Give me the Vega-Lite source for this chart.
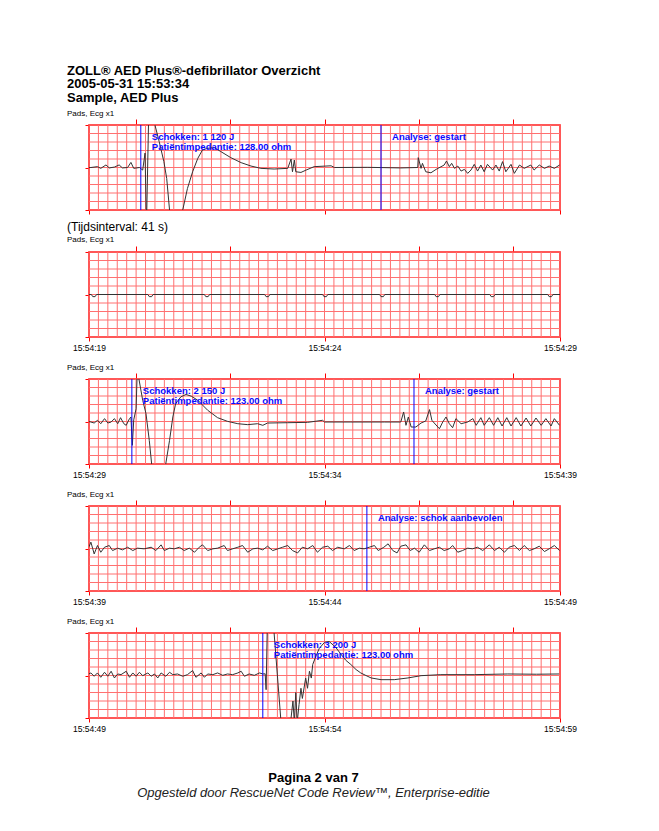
{
"$schema": "https://vega.github.io/schema/vega-lite/v6.json",
"background": "white",
"padding": {"left": 66, "top": 64, "right": 5, "bottom": 5},
"bounds": "flush",
"spacing": 42,
"title": {"text": ["ZOLL® AED Plus®-defibrillator Overzicht", "2005-05-31 15:53:34", "Sample, AED Plus"], "anchor": "start", "frame": "group", "dx": -22, "fontSize": 13, "fontWeight": "bold", "lineHeight": 13.5, "offset": 4, "color": "#000"},
"config": {
  "font": "Liberation Sans",
  "view": {"stroke": "#ff0000", "strokeWidth": 1.5},
  "title": {"font": "Liberation Sans", "fontSize": 8, "fontWeight": "normal", "anchor": "start", "frame": "group", "dx": -22, "color": "#000", "offset": 1},
  "axis": {"labelFont": "Liberation Sans", "grid": false, "domain": false, "title": null, "tickColor": "#ff0000", "tickWidth": 1, "labelColor": "#000"}
},
"datasets": {
  "vgrid": [{"g":0},{"g":0.2},{"g":0.4},{"g":0.6},{"g":0.8},{"g":1},{"g":1.2},{"g":1.4},{"g":1.6},{"g":1.8},{"g":2},{"g":2.2},{"g":2.4},{"g":2.6},{"g":2.8},{"g":3},{"g":3.2},{"g":3.4},{"g":3.6},{"g":3.8},{"g":4},{"g":4.2},{"g":4.4},{"g":4.6},{"g":4.8},{"g":5},{"g":5.2},{"g":5.4},{"g":5.6},{"g":5.8},{"g":6},{"g":6.2},{"g":6.4},{"g":6.6},{"g":6.8},{"g":7},{"g":7.2},{"g":7.4},{"g":7.6},{"g":7.8},{"g":8},{"g":8.2},{"g":8.4},{"g":8.6},{"g":8.8},{"g":9},{"g":9.2},{"g":9.4},{"g":9.6},{"g":9.8},{"g":10}],
  "hgrid": [{"h":-5},{"h":-4},{"h":-3},{"h":-2},{"h":-1},{"h":0},{"h":1},{"h":2},{"h":3},{"h":4},{"h":5}],
  "events": [
    {"p":1,"t":1.1,"label":"Schokken: 1 120 J\nPatiëntimpedantie: 128.00 ohm"},
    {"p":1,"t":6.2,"label":"Analyse: gestart"},
    {"p":3,"t":0.91,"label":"Schokken: 2 150 J\nPatiëntimpedantie: 123.00 ohm"},
    {"p":3,"t":6.9,"label":"Analyse: gestart"},
    {"p":4,"t":5.9,"label":"Analyse: schok aanbevolen"},
    {"p":5,"t":3.69,"label":"Schokken: 3 200 J\nPatiëntimpedantie: 123.00 ohm"}
  ],
  "ecg": [
{"p":1,"t":0,"v":0},{"p":1,"t":0.04,"v":0},{"p":1,"t":0.18,"v":0.1},{"p":1,"t":0.25,"v":-0.1},{"p":1,"t":0.36,"v":0.3},{"p":1,"t":0.43,"v":-0.05},{"p":1,"t":0.54,"v":0.05},{"p":1,"t":0.64,"v":0.3},{"p":1,"t":0.71,"v":-0.05},{"p":1,"t":0.82,"v":0},{"p":1,"t":0.89,"v":0.6},{"p":1,"t":0.95,"v":-0.1},{"p":1,"t":1.07,"v":0},{"p":1,"t":1.14,"v":-0.3},{"p":1,"t":1.19,"v":1.7},{"p":1,"t":1.22,"v":-7},{"p":1,"t":1.27,"v":7},{"p":1,"t":1.36,"v":7},{"p":1,"t":1.4,"v":5},{"p":1,"t":1.49,"v":3.05},{"p":1,"t":1.59,"v":0.69},{"p":1,"t":1.65,"v":-1.29},{"p":1,"t":1.71,"v":-5},{"p":1,"t":1.75,"v":-7},{"p":1,"t":1.95,"v":-7},{"p":1,"t":1.99,"v":-5},{"p":1,"t":2.09,"v":-2.47},{"p":1,"t":2.2,"v":-0.5},{"p":1,"t":2.31,"v":1.08},{"p":1,"t":2.41,"v":2.07},{"p":1,"t":2.52,"v":2.26},{"p":1,"t":2.66,"v":2.34},{"p":1,"t":2.8,"v":1.87},{"p":1,"t":3.01,"v":1.16},{"p":1,"t":3.23,"v":0.57},{"p":1,"t":3.44,"v":0.17},{"p":1,"t":3.65,"v":-0.1},{"p":1,"t":3.93,"v":-0.18},{"p":1,"t":4.22,"v":-0.1},{"p":1,"t":4.29,"v":1},{"p":1,"t":4.32,"v":-0.5},{"p":1,"t":4.36,"v":0.88},{"p":1,"t":4.39,"v":-0.5},{"p":1,"t":4.5,"v":-0.58},{"p":1,"t":4.61,"v":-0.3},{"p":1,"t":4.78,"v":0.1},{"p":1,"t":5.14,"v":0.2},{"p":1,"t":5.21,"v":0},{"p":1,"t":5.92,"v":0.02},{"p":1,"t":6.62,"v":-0.05},{"p":1,"t":6.98,"v":0},{"p":1,"t":6.99,"v":1.16},{"p":1,"t":7.05,"v":-0.1},{"p":1,"t":7.08,"v":0.49},{"p":1,"t":7.15,"v":-0.5},{"p":1,"t":7.26,"v":-0.62},{"p":1,"t":7.37,"v":-0.22},{"p":1,"t":7.54,"v":0.29},{"p":1,"t":7.59,"v":0.76},{"p":1,"t":7.65,"v":0.1},{"p":1,"t":7.7,"v":0.49},{"p":1,"t":7.76,"v":-0.1},{"p":1,"t":7.83,"v":0.17},{"p":1,"t":7.9,"v":-0.42},{"p":1,"t":7.97,"v":-0.22},{"p":1,"t":8.04,"v":-0.69},{"p":1,"t":8.11,"v":-0.3},{"p":1,"t":8.18,"v":0.37},{"p":1,"t":8.25,"v":-0.42},{"p":1,"t":8.32,"v":0.29},{"p":1,"t":8.39,"v":-0.5},{"p":1,"t":8.46,"v":0.37},{"p":1,"t":8.57,"v":-0.3},{"p":1,"t":8.64,"v":0.29},{"p":1,"t":8.71,"v":-0.42},{"p":1,"t":8.78,"v":0.69},{"p":1,"t":8.85,"v":-0.5},{"p":1,"t":8.96,"v":0.37},{"p":1,"t":9.03,"v":-0.69},{"p":1,"t":9.14,"v":0.29},{"p":1,"t":9.24,"v":-0.1},{"p":1,"t":9.38,"v":0.29},{"p":1,"t":9.45,"v":-0.3},{"p":1,"t":9.56,"v":0.29},{"p":1,"t":9.67,"v":-0.1},{"p":1,"t":9.77,"v":0.17},{"p":1,"t":9.88,"v":-0.1},{"p":1,"t":9.99,"v":0.29},
{"p":2,"t":0,"v":0},{"p":2,"t":0.05,"v":0},{"p":2,"t":0.08,"v":-0.25},{"p":2,"t":0.13,"v":-0.25},{"p":2,"t":0.16,"v":0},{"p":2,"t":1.25,"v":0},{"p":2,"t":1.28,"v":-0.25},{"p":2,"t":1.33,"v":-0.25},{"p":2,"t":1.36,"v":0},{"p":2,"t":2.45,"v":0},{"p":2,"t":2.48,"v":-0.25},{"p":2,"t":2.53,"v":-0.25},{"p":2,"t":2.56,"v":0},{"p":2,"t":3.73,"v":0},{"p":2,"t":3.76,"v":-0.25},{"p":2,"t":3.81,"v":-0.25},{"p":2,"t":3.84,"v":0},{"p":2,"t":4.96,"v":0},{"p":2,"t":4.99,"v":-0.25},{"p":2,"t":5.04,"v":-0.25},{"p":2,"t":5.07,"v":0},{"p":2,"t":6.17,"v":0},{"p":2,"t":6.2,"v":-0.25},{"p":2,"t":6.25,"v":-0.25},{"p":2,"t":6.28,"v":0},{"p":2,"t":7.34,"v":0},{"p":2,"t":7.37,"v":-0.25},{"p":2,"t":7.42,"v":-0.25},{"p":2,"t":7.45,"v":0},{"p":2,"t":8.51,"v":0},{"p":2,"t":8.54,"v":-0.25},{"p":2,"t":8.59,"v":-0.25},{"p":2,"t":8.62,"v":0},{"p":2,"t":9.74,"v":0},{"p":2,"t":9.77,"v":-0.25},{"p":2,"t":9.82,"v":-0.25},{"p":2,"t":9.85,"v":0},{"p":2,"t":10,"v":0},
{"p":3,"t":0,"v":0},{"p":3,"t":0.04,"v":-0.06},{"p":3,"t":0.11,"v":-0.18},{"p":3,"t":0.18,"v":0.14},{"p":3,"t":0.25,"v":-0.26},{"p":3,"t":0.33,"v":0.34},{"p":3,"t":0.4,"v":-0.18},{"p":3,"t":0.47,"v":-0.06},{"p":3,"t":0.54,"v":0.34},{"p":3,"t":0.61,"v":-0.26},{"p":3,"t":0.67,"v":0.45},{"p":3,"t":0.74,"v":-0.26},{"p":3,"t":0.79,"v":-0.45},{"p":3,"t":0.86,"v":0.34},{"p":3,"t":0.89,"v":0.53},{"p":3,"t":0.92,"v":-2.8},{"p":3,"t":0.95,"v":0.2},{"p":3,"t":1,"v":1.5},{"p":3,"t":1.03,"v":7},{"p":3,"t":1.05,"v":7},{"p":3,"t":1.06,"v":5},{"p":3,"t":1.14,"v":2.5},{"p":3,"t":1.21,"v":0.93},{"p":3,"t":1.28,"v":-2.23},{"p":3,"t":1.33,"v":-5},{"p":3,"t":1.36,"v":-7},{"p":3,"t":1.6,"v":-7},{"p":3,"t":1.63,"v":-4.97},{"p":3,"t":1.71,"v":-2.23},{"p":3,"t":1.78,"v":0.53},{"p":3,"t":1.84,"v":2.11},{"p":3,"t":1.95,"v":2.9},{"p":3,"t":2.06,"v":3.18},{"p":3,"t":2.17,"v":2.98},{"p":3,"t":2.31,"v":2.5},{"p":3,"t":2.52,"v":1.32},{"p":3,"t":2.73,"v":0.45},{"p":3,"t":2.94,"v":0.02},{"p":3,"t":3.16,"v":-0.26},{"p":3,"t":3.37,"v":-0.37},{"p":3,"t":3.58,"v":-0.26},{"p":3,"t":3.69,"v":-0.45},{"p":3,"t":3.79,"v":-0.18},{"p":3,"t":4.22,"v":-0.14},{"p":3,"t":4.64,"v":-0.1},{"p":3,"t":4.96,"v":0.14},{"p":3,"t":5,"v":-0.06},{"p":3,"t":5.56,"v":-0.06},{"p":3,"t":6.27,"v":-0.06},{"p":3,"t":6.62,"v":-0.06},{"p":3,"t":6.68,"v":1.12},{"p":3,"t":6.73,"v":-0.45},{"p":3,"t":6.78,"v":0.53},{"p":3,"t":6.84,"v":-0.65},{"p":3,"t":6.94,"v":-0.65},{"p":3,"t":7.05,"v":-0.18},{"p":3,"t":7.15,"v":0.06},{"p":3,"t":7.23,"v":1.4},{"p":3,"t":7.28,"v":0.14},{"p":3,"t":7.33,"v":-0.18},{"p":3,"t":7.44,"v":-0.85},{"p":3,"t":7.51,"v":-0.06},{"p":3,"t":7.58,"v":0.53},{"p":3,"t":7.65,"v":-0.26},{"p":3,"t":7.72,"v":-0.73},{"p":3,"t":7.79,"v":0.34},{"p":3,"t":7.9,"v":-0.26},{"p":3,"t":8.04,"v":-0.06},{"p":3,"t":8.15,"v":0.34},{"p":3,"t":8.22,"v":-0.45},{"p":3,"t":8.32,"v":0.45},{"p":3,"t":8.39,"v":-0.45},{"p":3,"t":8.5,"v":0.45},{"p":3,"t":8.59,"v":-0.45},{"p":3,"t":8.68,"v":0.45},{"p":3,"t":8.77,"v":-0.53},{"p":3,"t":8.87,"v":0.45},{"p":3,"t":8.96,"v":-0.53},{"p":3,"t":9.07,"v":0.45},{"p":3,"t":9.17,"v":-0.53},{"p":3,"t":9.28,"v":0.41},{"p":3,"t":9.38,"v":-0.53},{"p":3,"t":9.49,"v":0.41},{"p":3,"t":9.6,"v":-0.45},{"p":3,"t":9.7,"v":0.34},{"p":3,"t":9.81,"v":-0.53},{"p":3,"t":9.88,"v":0.34},{"p":3,"t":9.99,"v":-0.45},
{"p":4,"t":0,"v":0.2},{"p":4,"t":0.04,"v":0.75},{"p":4,"t":0.08,"v":-0.04},{"p":4,"t":0.11,"v":-0.64},{"p":4,"t":0.18,"v":0.35},{"p":4,"t":0.25,"v":-0.44},{"p":4,"t":0.33,"v":0.15},{"p":4,"t":0.43,"v":0.35},{"p":4,"t":0.5,"v":-0.24},{"p":4,"t":0.61,"v":0.04},{"p":4,"t":0.71,"v":-0.16},{"p":4,"t":0.82,"v":0.15},{"p":4,"t":0.93,"v":-0.24},{"p":4,"t":1.03,"v":0.04},{"p":4,"t":1.17,"v":-0.04},{"p":4,"t":1.32,"v":0.15},{"p":4,"t":1.42,"v":-0.24},{"p":4,"t":1.53,"v":0.43},{"p":4,"t":1.6,"v":-0.24},{"p":4,"t":1.71,"v":0.04},{"p":4,"t":1.81,"v":-0.04},{"p":4,"t":1.92,"v":0.15},{"p":4,"t":2.02,"v":-0.24},{"p":4,"t":2.13,"v":0.04},{"p":4,"t":2.24,"v":-0.44},{"p":4,"t":2.34,"v":0.15},{"p":4,"t":2.41,"v":0.43},{"p":4,"t":2.52,"v":-0.24},{"p":4,"t":2.63,"v":-0.04},{"p":4,"t":2.73,"v":0.04},{"p":4,"t":2.87,"v":0.35},{"p":4,"t":2.94,"v":-0.24},{"p":4,"t":3.05,"v":-0.04},{"p":4,"t":3.16,"v":0.15},{"p":4,"t":3.26,"v":0.35},{"p":4,"t":3.37,"v":-0.44},{"p":4,"t":3.48,"v":-0.04},{"p":4,"t":3.58,"v":0.04},{"p":4,"t":3.69,"v":-0.16},{"p":4,"t":3.79,"v":0.27},{"p":4,"t":3.9,"v":-0.24},{"p":4,"t":4.01,"v":-0.04},{"p":4,"t":4.11,"v":0.15},{"p":4,"t":4.22,"v":0.35},{"p":4,"t":4.32,"v":-0.24},{"p":4,"t":4.43,"v":-0.52},{"p":4,"t":4.53,"v":0.15},{"p":4,"t":4.64,"v":-0.04},{"p":4,"t":4.75,"v":0.35},{"p":4,"t":4.85,"v":-0.44},{"p":4,"t":4.96,"v":0.15},{"p":4,"t":5.07,"v":0.27},{"p":4,"t":5.17,"v":-0.24},{"p":4,"t":5.28,"v":0.15},{"p":4,"t":5.42,"v":-0.04},{"p":4,"t":5.53,"v":0.35},{"p":4,"t":5.63,"v":-0.24},{"p":4,"t":5.74,"v":0.04},{"p":4,"t":5.84,"v":-0.04},{"p":4,"t":5.95,"v":0.15},{"p":4,"t":6.06,"v":0.35},{"p":4,"t":6.14,"v":-0.24},{"p":4,"t":6.26,"v":0.15},{"p":4,"t":6.35,"v":0.55},{"p":4,"t":6.45,"v":-0.24},{"p":4,"t":6.54,"v":-0.52},{"p":4,"t":6.62,"v":0.27},{"p":4,"t":6.73,"v":0.43},{"p":4,"t":6.82,"v":-0.24},{"p":4,"t":6.91,"v":0.04},{"p":4,"t":7.01,"v":-0.44},{"p":4,"t":7.12,"v":0.43},{"p":4,"t":7.23,"v":-0.24},{"p":4,"t":7.33,"v":-0.04},{"p":4,"t":7.44,"v":0.15},{"p":4,"t":7.54,"v":-0.24},{"p":4,"t":7.65,"v":-0.04},{"p":4,"t":7.72,"v":0.35},{"p":4,"t":7.83,"v":-0.44},{"p":4,"t":7.93,"v":-0.24},{"p":4,"t":8.04,"v":0.04},{"p":4,"t":8.14,"v":-0.04},{"p":4,"t":8.25,"v":0.15},{"p":4,"t":8.36,"v":-0.24},{"p":4,"t":8.5,"v":0.43},{"p":4,"t":8.61,"v":-0.24},{"p":4,"t":8.71,"v":0.15},{"p":4,"t":8.82,"v":-0.44},{"p":4,"t":8.92,"v":0.15},{"p":4,"t":9.03,"v":0.35},{"p":4,"t":9.14,"v":-0.24},{"p":4,"t":9.24,"v":0.35},{"p":4,"t":9.35,"v":-0.24},{"p":4,"t":9.45,"v":-0.04},{"p":4,"t":9.56,"v":0.27},{"p":4,"t":9.67,"v":-0.36},{"p":4,"t":9.77,"v":-0.04},{"p":4,"t":9.88,"v":0.35},{"p":4,"t":9.99,"v":-0.24},
{"p":5,"t":0,"v":0.2},{"p":5,"t":0.04,"v":0.3},{"p":5,"t":0.11,"v":-0.09},{"p":5,"t":0.18,"v":0.3},{"p":5,"t":0.25,"v":-0.21},{"p":5,"t":0.33,"v":0.38},{"p":5,"t":0.4,"v":-0.09},{"p":5,"t":0.47,"v":0.5},{"p":5,"t":0.54,"v":-0.29},{"p":5,"t":0.61,"v":0.18},{"p":5,"t":0.68,"v":0.1},{"p":5,"t":0.79,"v":0.5},{"p":5,"t":0.86,"v":-0.21},{"p":5,"t":0.93,"v":0.3},{"p":5,"t":1,"v":-0.09},{"p":5,"t":1.07,"v":0.38},{"p":5,"t":1.14,"v":-0.02},{"p":5,"t":1.25,"v":0.3},{"p":5,"t":1.32,"v":-0.09},{"p":5,"t":1.39,"v":0.18},{"p":5,"t":1.46,"v":-0.29},{"p":5,"t":1.53,"v":0.3},{"p":5,"t":1.63,"v":-0.09},{"p":5,"t":1.71,"v":0.38},{"p":5,"t":1.78,"v":0.1},{"p":5,"t":1.88,"v":0.18},{"p":5,"t":1.99,"v":-0.09},{"p":5,"t":2.09,"v":0.1},{"p":5,"t":2.2,"v":0.58},{"p":5,"t":2.27,"v":-0.21},{"p":5,"t":2.38,"v":0.3},{"p":5,"t":2.45,"v":-0.21},{"p":5,"t":2.52,"v":0.18},{"p":5,"t":2.63,"v":0.1},{"p":5,"t":2.73,"v":0.3},{"p":5,"t":2.84,"v":0.02},{"p":5,"t":2.94,"v":0.18},{"p":5,"t":3.05,"v":0.1},{"p":5,"t":3.16,"v":0.3},{"p":5,"t":3.23,"v":0.5},{"p":5,"t":3.3,"v":-0.09},{"p":5,"t":3.4,"v":0.18},{"p":5,"t":3.51,"v":0.02},{"p":5,"t":3.62,"v":0.3},{"p":5,"t":3.69,"v":0.18},{"p":5,"t":3.74,"v":0.2},{"p":5,"t":3.76,"v":-1.67},{"p":5,"t":3.79,"v":7},{"p":5,"t":3.92,"v":7},{"p":5,"t":3.93,"v":5},{"p":5,"t":4.07,"v":-5},{"p":5,"t":4.1,"v":-7},{"p":5,"t":4.27,"v":-7},{"p":5,"t":4.29,"v":-5},{"p":5,"t":4.33,"v":-3},{"p":5,"t":4.36,"v":-5.5},{"p":5,"t":4.39,"v":-2},{"p":5,"t":4.42,"v":-5.5},{"p":5,"t":4.46,"v":-3.4},{"p":5,"t":4.5,"v":-1.5},{"p":5,"t":4.53,"v":-2.7},{"p":5,"t":4.6,"v":-0.3},{"p":5,"t":4.64,"v":-1.5},{"p":5,"t":4.68,"v":0.5},{"p":5,"t":4.72,"v":-0.3},{"p":5,"t":4.75,"v":1.3},{"p":5,"t":4.82,"v":2.3},{"p":5,"t":4.89,"v":3.2},{"p":5,"t":5,"v":3.9},{"p":5,"t":5.1,"v":4},{"p":5,"t":5.24,"v":3.3},{"p":5,"t":5.35,"v":2.5},{"p":5,"t":5.45,"v":1.8},{"p":5,"t":5.56,"v":1.29},{"p":5,"t":5.67,"v":0.7},{"p":5,"t":5.77,"v":0.3},{"p":5,"t":5.88,"v":0},{"p":5,"t":5.99,"v":-0.29},{"p":5,"t":6.2,"v":-0.49},{"p":5,"t":6.48,"v":-0.49},{"p":5,"t":6.77,"v":-0.29},{"p":5,"t":7.05,"v":-0.02},{"p":5,"t":7.47,"v":0.1},{"p":5,"t":8.18,"v":0.1},{"p":5,"t":8.89,"v":0.18},{"p":5,"t":9.5,"v":0.15},{"p":5,"t":9.98,"v":0.18}
  ]
},
"vconcat": [
  {
    "width": 471, "height": 85,
    "title": {"text": "Pads, Ecg x1"},
    "layer": [
      {"data": {"name": "vgrid"}, "mark": {"type": "rule", "color": "#ff7070", "strokeWidth": 1}, "encoding": {"x": {"field": "g", "type": "quantitative", "scale": {"domain": [0, 10], "nice": false}, "axis": {"orient": "top", "values": [1, 3, 5, 7, 9], "labels": false, "tickSize": 6}}}},
      {"data": {"name": "hgrid"}, "mark": {"type": "rule", "color": "#ff7070", "strokeWidth": 1}, "encoding": {"y": {"field": "h", "type": "quantitative", "scale": {"domain": [-5, 5], "nice": false, "zero": false}, "axis": {"orient": "left", "values": [-5, 0, 5], "labels": false, "tickSize": 4}}}},
      {"data": {"name": "ecg"}, "transform": [{"filter": "datum.p == 1"}], "mark": {"type": "line", "color": "#333333", "strokeWidth": 1, "clip": true}, "encoding": {"x": {"field": "t", "type": "quantitative", "axis": {"orient": "bottom", "values": [0, 5, 10], "labels": false, "tickSize": 4}}, "y": {"field": "v", "type": "quantitative", "axis": null}}},
      {"data": {"name": "events"}, "transform": [{"filter": "datum.p == 1"}], "mark": {"type": "rule", "color": "#0000ff", "strokeWidth": 1}, "encoding": {"x": {"field": "t", "type": "quantitative", "axis": null}}},
      {"data": {"name": "events"}, "transform": [{"filter": "datum.p == 1"}], "mark": {"type": "text", "color": "#0a0aff", "fontSize": 9.5, "fontWeight": "bold", "align": "left", "baseline": "top", "dx": 11, "dy": 7, "lineBreak": "\n", "lineHeight": 9.5}, "encoding": {"x": {"field": "t", "type": "quantitative", "axis": null}, "y": {"datum": 5, "type": "quantitative", "axis": null}, "text": {"field": "label"}}}
    ],
    "resolve": {"axis": {"x": "independent", "y": "independent"}}
  },
  {
    "width": 471, "height": 85,
    "title": {"text": "(Tijdsinterval: 41 s)", "subtitle": "Pads, Ecg x1", "fontSize": 12, "subtitleFontSize": 8, "subtitleFont": "Liberation Sans", "subtitleColor": "#000", "subtitlePadding": 2},
    "layer": [
      {"data": {"name": "vgrid"}, "mark": {"type": "rule", "color": "#ff7070", "strokeWidth": 1}, "encoding": {"x": {"field": "g", "type": "quantitative", "scale": {"domain": [0, 10], "nice": false}, "axis": {"orient": "top", "values": [1, 3, 5, 7, 9], "labels": false, "tickSize": 6}}}},
      {"data": {"name": "hgrid"}, "mark": {"type": "rule", "color": "#ff7070", "strokeWidth": 1}, "encoding": {"y": {"field": "h", "type": "quantitative", "scale": {"domain": [-5, 5], "nice": false, "zero": false}, "axis": {"orient": "left", "values": [-5, 0, 5], "labels": false, "tickSize": 4}}}},
      {"data": {"name": "ecg"}, "transform": [{"filter": "datum.p == 2"}], "mark": {"type": "line", "color": "#333333", "strokeWidth": 1, "clip": true}, "encoding": {"x": {"field": "t", "type": "quantitative", "axis": {"orient": "bottom", "values": [0, 5, 10], "tickSize": 4, "labelFontSize": 8.5, "labelPadding": 2, "labelFlush": false, "labelExpr": "datum.value == 0 ? '15:54:19' : datum.value == 5 ? '15:54:24' : '15:54:29'"}}, "y": {"field": "v", "type": "quantitative", "axis": null}}}
    ],
    "resolve": {"axis": {"x": "independent", "y": "independent"}}
  },
  {
    "width": 471, "height": 85,
    "title": {"text": "Pads, Ecg x1"},
    "layer": [
      {"data": {"name": "vgrid"}, "mark": {"type": "rule", "color": "#ff7070", "strokeWidth": 1}, "encoding": {"x": {"field": "g", "type": "quantitative", "scale": {"domain": [0, 10], "nice": false}, "axis": {"orient": "top", "values": [1, 3, 5, 7, 9], "labels": false, "tickSize": 6}}}},
      {"data": {"name": "hgrid"}, "mark": {"type": "rule", "color": "#ff7070", "strokeWidth": 1}, "encoding": {"y": {"field": "h", "type": "quantitative", "scale": {"domain": [-5, 5], "nice": false, "zero": false}, "axis": {"orient": "left", "values": [-5, 0, 5], "labels": false, "tickSize": 4}}}},
      {"data": {"name": "ecg"}, "transform": [{"filter": "datum.p == 3"}], "mark": {"type": "line", "color": "#333333", "strokeWidth": 1, "clip": true}, "encoding": {"x": {"field": "t", "type": "quantitative", "axis": {"orient": "bottom", "values": [0, 5, 10], "tickSize": 4, "labelFontSize": 8.5, "labelPadding": 2, "labelFlush": false, "labelExpr": "datum.value == 0 ? '15:54:29' : datum.value == 5 ? '15:54:34' : '15:54:39'"}}, "y": {"field": "v", "type": "quantitative", "axis": null}}},
      {"data": {"name": "events"}, "transform": [{"filter": "datum.p == 3"}], "mark": {"type": "rule", "color": "#0000ff", "strokeWidth": 1}, "encoding": {"x": {"field": "t", "type": "quantitative", "axis": null}}},
      {"data": {"name": "events"}, "transform": [{"filter": "datum.p == 3"}], "mark": {"type": "text", "color": "#0a0aff", "fontSize": 9.5, "fontWeight": "bold", "align": "left", "baseline": "top", "dx": 11, "dy": 7, "lineBreak": "\n", "lineHeight": 9.5}, "encoding": {"x": {"field": "t", "type": "quantitative", "axis": null}, "y": {"datum": 5, "type": "quantitative", "axis": null}, "text": {"field": "label"}}}
    ],
    "resolve": {"axis": {"x": "independent", "y": "independent"}}
  },
  {
    "width": 471, "height": 85,
    "title": {"text": "Pads, Ecg x1"},
    "layer": [
      {"data": {"name": "vgrid"}, "mark": {"type": "rule", "color": "#ff7070", "strokeWidth": 1}, "encoding": {"x": {"field": "g", "type": "quantitative", "scale": {"domain": [0, 10], "nice": false}, "axis": {"orient": "top", "values": [1, 3, 5, 7, 9], "labels": false, "tickSize": 6}}}},
      {"data": {"name": "hgrid"}, "mark": {"type": "rule", "color": "#ff7070", "strokeWidth": 1}, "encoding": {"y": {"field": "h", "type": "quantitative", "scale": {"domain": [-5, 5], "nice": false, "zero": false}, "axis": {"orient": "left", "values": [-5, 0, 5], "labels": false, "tickSize": 4}}}},
      {"data": {"name": "ecg"}, "transform": [{"filter": "datum.p == 4"}], "mark": {"type": "line", "color": "#333333", "strokeWidth": 1, "clip": true}, "encoding": {"x": {"field": "t", "type": "quantitative", "axis": {"orient": "bottom", "values": [0, 5, 10], "tickSize": 4, "labelFontSize": 8.5, "labelPadding": 2, "labelFlush": false, "labelExpr": "datum.value == 0 ? '15:54:39' : datum.value == 5 ? '15:54:44' : '15:54:49'"}}, "y": {"field": "v", "type": "quantitative", "axis": null}}},
      {"data": {"name": "events"}, "transform": [{"filter": "datum.p == 4"}], "mark": {"type": "rule", "color": "#0000ff", "strokeWidth": 1}, "encoding": {"x": {"field": "t", "type": "quantitative", "axis": null}}},
      {"data": {"name": "events"}, "transform": [{"filter": "datum.p == 4"}], "mark": {"type": "text", "color": "#0a0aff", "fontSize": 9.5, "fontWeight": "bold", "align": "left", "baseline": "top", "dx": 11, "dy": 7, "lineBreak": "\n", "lineHeight": 9.5}, "encoding": {"x": {"field": "t", "type": "quantitative", "axis": null}, "y": {"datum": 5, "type": "quantitative", "axis": null}, "text": {"field": "label"}}}
    ],
    "resolve": {"axis": {"x": "independent", "y": "independent"}}
  },
  {
    "width": 471, "height": 85,
    "title": {"text": "Pads, Ecg x1"},
    "layer": [
      {"data": {"name": "vgrid"}, "mark": {"type": "rule", "color": "#ff7070", "strokeWidth": 1}, "encoding": {"x": {"field": "g", "type": "quantitative", "scale": {"domain": [0, 10], "nice": false}, "axis": {"orient": "top", "values": [1, 3, 5, 7, 9], "labels": false, "tickSize": 6}}}},
      {"data": {"name": "hgrid"}, "mark": {"type": "rule", "color": "#ff7070", "strokeWidth": 1}, "encoding": {"y": {"field": "h", "type": "quantitative", "scale": {"domain": [-5, 5], "nice": false, "zero": false}, "axis": {"orient": "left", "values": [-5, 0, 5], "labels": false, "tickSize": 4}}}},
      {"data": {"name": "ecg"}, "transform": [{"filter": "datum.p == 5"}], "mark": {"type": "line", "color": "#333333", "strokeWidth": 1, "clip": true}, "encoding": {"x": {"field": "t", "type": "quantitative", "axis": {"orient": "bottom", "values": [0, 5, 10], "tickSize": 4, "labelFontSize": 8.5, "labelPadding": 2, "labelFlush": false, "labelExpr": "datum.value == 0 ? '15:54:49' : datum.value == 5 ? '15:54:54' : '15:54:59'"}}, "y": {"field": "v", "type": "quantitative", "axis": null}}},
      {"data": {"name": "events"}, "transform": [{"filter": "datum.p == 5"}], "mark": {"type": "rule", "color": "#0000ff", "strokeWidth": 1}, "encoding": {"x": {"field": "t", "type": "quantitative", "axis": null}}},
      {"data": {"name": "events"}, "transform": [{"filter": "datum.p == 5"}], "mark": {"type": "text", "color": "#0a0aff", "fontSize": 9.5, "fontWeight": "bold", "align": "left", "baseline": "top", "dx": 11, "dy": 7, "lineBreak": "\n", "lineHeight": 9.5}, "encoding": {"x": {"field": "t", "type": "quantitative", "axis": null}, "y": {"datum": 5, "type": "quantitative", "axis": null}, "text": {"field": "label"}}}
    ],
    "resolve": {"axis": {"x": "independent", "y": "independent"}}
  },
  {
    "width": 471, "height": 8,
    "view": {"stroke": null},
    "data": {"values": [{}]},
    "mark": {"type": "text", "text": ""},
    "title": {"text": "Pagina 2 van 7", "subtitle": "Opgesteld door RescueNet Code Review™, Enterprise-editie", "orient": "bottom", "anchor": "middle", "frame": "group", "dx": -11, "offset": 3, "fontSize": 13, "fontWeight": "bold", "subtitleFontSize": 13, "subtitleFontStyle": "italic", "subtitleFont": "Liberation Sans", "subtitleColor": "#222", "subtitlePadding": 2}
  }
]
}
